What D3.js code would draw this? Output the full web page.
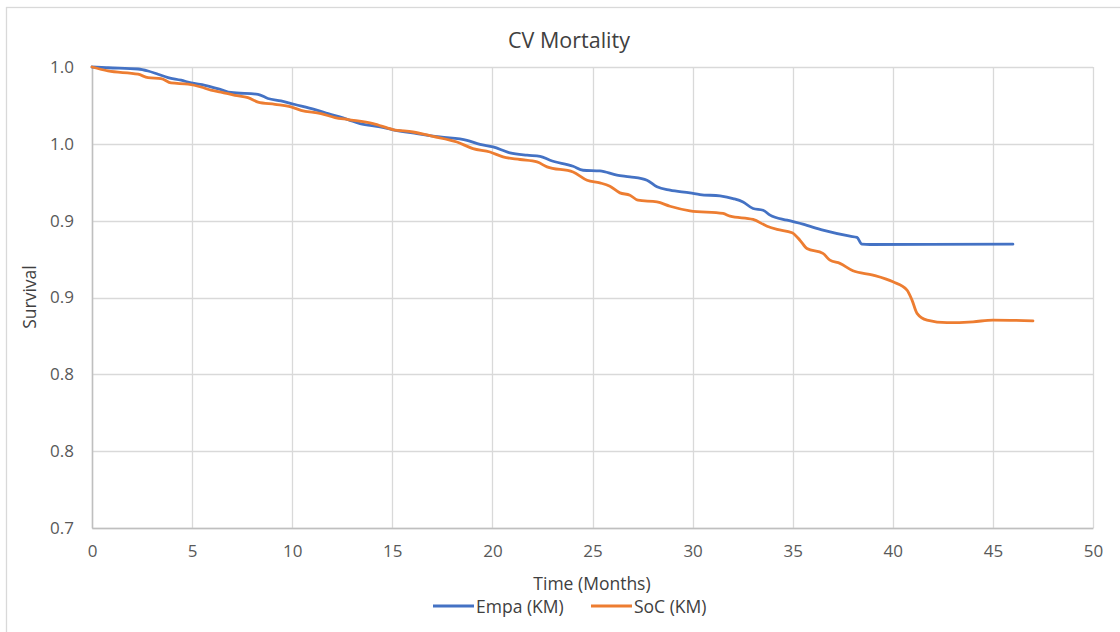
<!DOCTYPE html>
<html>
<head>
<meta charset="utf-8">
<script src="https://cdn.jsdelivr.net/npm/d3@7"></script>
<style>
  html, body { margin: 0; padding: 0; background: #fff; }
  svg { display: block; font-family: "Open Sans", "Noto Sans", sans-serif; }
</style>
</head>
<body>
<svg id="chart" width="1120" height="632"></svg>
<script>
// ---- data ----
const title = "CV Mortality";
const xAxisTitle = "Time (Months)";
const yAxisTitle = "Survival";
const seriesNames = ["Empa (KM)", "SoC (KM)"];

const empaTime = [0, 0.80, 2.30, 2.80, 3.30, 3.80, 4.45, 4.95, 5.64, 6.44, 6.94, 8.29, 8.79, 9.44, 10.14, 11.14, 11.79, 12.79, 13.39, 14.39, 14.99, 16.23, 17.38, 18.73, 19.38, 20.03, 20.88, 21.73, 22.38, 22.88, 24.03, 24.53, 25.37, 26.22, 26.87, 27.72, 28.22, 28.87, 29.87, 30.37, 31.37, 32.02, 32.52, 33.02, 33.52, 33.87, 34.72, 35.51, 36.51, 37.86, 38.21, 38.46, 38.86, 46.00];
const empaSurv = [1.000, 0.9995, 0.9987, 0.9974, 0.9953, 0.9931, 0.9914, 0.9896, 0.9881, 0.9853, 0.9834, 0.9822, 0.9795, 0.9779, 0.9756, 0.9723, 0.9697, 0.9658, 0.9632, 0.9610, 0.9593, 0.9567, 0.9545, 0.9523, 0.9497, 0.9480, 0.9441, 0.9426, 0.9419, 0.9393, 0.9354, 0.9328, 0.9324, 0.9296, 0.9285, 0.9263, 0.9220, 0.9198, 0.9181, 0.9170, 0.9161, 0.9144, 0.9122, 0.9079, 0.9068, 0.9036, 0.9003, 0.8977, 0.8938, 0.8899, 0.8891, 0.8847, 0.8845, 0.8847];

const socTime = [0, 0.80, 2.30, 2.80, 3.45, 3.95, 4.80, 5.44, 5.94, 6.44, 7.14, 7.79, 8.29, 9.14, 9.94, 10.44, 11.44, 12.14, 12.79, 14.04, 15.03, 16.03, 17.03, 18.23, 19.03, 19.88, 20.53, 21.38, 22.23, 22.73, 24.03, 24.73, 25.37, 25.87, 26.37, 26.87, 27.27, 28.22, 28.87, 29.87, 31.52, 31.87, 33.02, 33.72, 34.22, 34.97, 35.36, 35.71, 36.51, 36.86, 37.36, 38.01, 39.01, 40.01, 40.71, 40.96, 41.21, 41.71, 42.71, 44.01, 45.00, 47.00];
const socSurv = [1.000, 0.9974, 0.9953, 0.9931, 0.9925, 0.9896, 0.9888, 0.9870, 0.9849, 0.9837, 0.9816, 0.9801, 0.9772, 0.9757, 0.9740, 0.9718, 0.9697, 0.9671, 0.9658, 0.9632, 0.9593, 0.9577, 0.9549, 0.9512, 0.9469, 0.9447, 0.9415, 0.9398, 0.9382, 0.9350, 0.9317, 0.9263, 0.9246, 0.9224, 0.9181, 0.9166, 0.9133, 0.9122, 0.9094, 0.9064, 0.9047, 0.9029, 0.9008, 0.8964, 0.8943, 0.8921, 0.8873, 0.8819, 0.8787, 0.8743, 0.8722, 0.8674, 0.8646, 0.8602, 0.8548, 0.8483, 0.8397, 0.8353, 0.8336, 0.8342, 0.8353, 0.8348];

const xTicks = [0, 5, 10, 15, 20, 25, 30, 35, 40, 45, 50];
const yTicks = [0.70, 0.75, 0.80, 0.85, 0.90, 0.95, 1.00];
const yTickLabels = ["0.7", "0.8", "0.8", "0.9", "0.9", "1.0", "1.0"];

const colors = ["#4472C4", "#ED7D31"];

// ---- layout ----
const svg = d3.select("#chart");
const W = 1120, H = 632;
const m = { left: 92, top: 67, right: 27, bottom: 104 };
const pw = W - m.left - m.right;
const ph = H - m.top - m.bottom;

// chart border
svg.append("rect")
  .attr("x", 6.5).attr("y", 7.5)
  .attr("width", W + 10).attr("height", H + 10)
  .attr("fill", "#fff").attr("stroke", "#d9d9d9").attr("stroke-width", 1.3);

const x = d3.scaleLinear().domain([0, 50]).range([m.left, m.left + pw]);
const y = d3.scaleLinear().domain([0.7, 1.0]).range([m.top + ph, m.top]);

const g = svg.append("g");

// gridlines
g.append("g")
  .selectAll("line").data(yTicks).join("line")
  .attr("x1", x(0)).attr("x2", x(50))
  .attr("y1", d => Math.round(y(d)) + 0.5).attr("y2", d => Math.round(y(d)) + 0.5)
  .attr("stroke", "#d9d9d9").attr("stroke-width", 1.3);
g.append("g")
  .selectAll("line").data(xTicks).join("line")
  .attr("y1", y(0.7)).attr("y2", y(1.0))
  .attr("x1", d => Math.round(x(d)) + 0.5).attr("x2", d => Math.round(x(d)) + 0.5)
  .attr("stroke", "#d9d9d9").attr("stroke-width", 1.3);

// axes
const xAxis = d3.axisBottom(x).tickValues(xTicks).tickSize(0).tickPadding(17);
const yAxis = d3.axisLeft(y).tickValues(yTicks).tickSize(0).tickPadding(18)
  .tickFormat((d, i) => yTickLabels[i]);

const gx = svg.append("g").attr("transform", `translate(0,${y(0.7)})`).call(xAxis);
const gy = svg.append("g").attr("transform", `translate(${x(0)},0)`).call(yAxis);
[gx, gy].forEach(a => {
  a.select(".domain").attr("stroke", "#bfbfbf").attr("stroke-width", 1.5);
  a.selectAll("text").attr("fill", "#595959").style("font-size", "17px")
    .style("font-family", "'Open Sans', sans-serif");
});

// lines
const line = d3.line().x(d => x(d[0])).y(d => y(d[1])).curve(d3.curveMonotoneX);
const empa = empaTime.map((t, i) => [t, empaSurv[i]]);
const soc = socTime.map((t, i) => [t, socSurv[i]]);

svg.append("path").datum(empa)
  .attr("d", line).attr("fill", "none")
  .attr("stroke", colors[0]).attr("stroke-width", 2.8)
  .attr("stroke-linejoin", "round").attr("stroke-linecap", "round");
svg.append("path").datum(soc)
  .attr("d", line).attr("fill", "none")
  .attr("stroke", colors[1]).attr("stroke-width", 2.8)
  .attr("stroke-linejoin", "round").attr("stroke-linecap", "round");

// title
svg.append("text").attr("x", 569).attr("y", 48)
  .attr("text-anchor", "middle").attr("fill", "#404040")
  .style("font-size", "21.5px").text(title);

// axis titles
svg.append("text").attr("x", 592).attr("y", 590)
  .attr("text-anchor", "middle").attr("fill", "#404040")
  .style("font-size", "17.5px").text(xAxisTitle);
svg.append("text")
  .attr("transform", "translate(36,297) rotate(-90)")
  .attr("text-anchor", "middle").attr("fill", "#404040")
  .style("font-size", "17.5px").text(yAxisTitle);

// legend
const legX = [433, 591];
seriesNames.forEach((name, i) => {
  const lg = svg.append("g").attr("transform", `translate(${legX[i]},606)`);
  lg.append("line").attr("x1", 0).attr("x2", 41).attr("y1", 0).attr("y2", 0)
    .attr("stroke", colors[i]).attr("stroke-width", 2.8);
  lg.append("text").attr("x", 43).attr("y", 6.5).attr("fill", "#404040")
    .style("font-size", "17.5px").text(name);
});
</script>
</body>
</html>
